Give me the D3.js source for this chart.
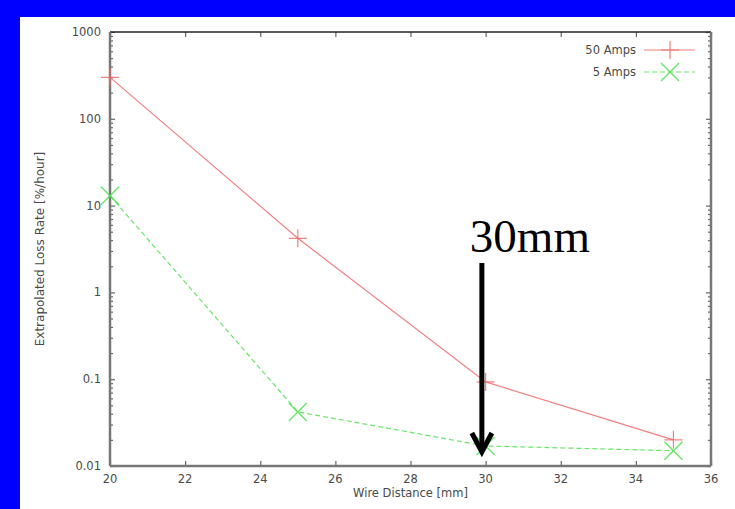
<!DOCTYPE html>
<html>
<head>
<meta charset="UTF-8">
<script src="https://d3js.org/d3.v7.min.js"></script>
<style>
    body { margin: 0; background: #0000ff; }
    svg { display: block; }
    text { font-family: "DejaVu Sans", sans-serif; fill: #4a4a4a; }
</style>
</head>
<body>
<svg width="735" height="509" id="canvas"></svg>
<script>
    // data
    var distances = [20, 25, 30, 35];
    var amps50 = [300, 4.2, 0.093, 0.02];
    var amps5 = [13, 0.042, 0.017, 0.015];
    var xTicks = [20, 22, 24, 26, 28, 30, 32, 34, 36];
    var yTicks = [0.01, 0.1, 1, 10, 100, 1000];
    var yTickLabels = ["0.01", "0.1", "1", "10", "100", "1000"];
    var seriesNames = ["50 Amps", "5 Amps"];

    var svg = d3.select("#canvas");

    // white panel on the blue slide
    svg.append("rect")
        .attr("x", 20).attr("y", 17)
        .attr("width", 715).attr("height", 492)
        .attr("fill", "#fff");

    var pLeft = 110, pRight = 711, pTop = 32, pBottom = 466;

    var x = d3.scaleLinear().domain([20, 36]).range([pLeft, pRight]);
    var y = d3.scaleLog().domain([0.01, 1000]).range([pBottom, pTop]);

    var g = svg.append("g");

    // ticks inward on all sides (gnuplot style)
    g.append("g").attr("transform", "translate(0," + pBottom + ")")
        .call(d3.axisTop(x).tickValues(xTicks).tickSize(5).tickFormat(""));
    g.append("g").attr("transform", "translate(0," + pTop + ")")
        .call(d3.axisBottom(x).tickValues(xTicks).tickSize(5).tickFormat(""));

    var minor = [];
    for (var d = 0.01; d < 999; d *= 10) {
        for (var k = 2; k <= 9; k++) minor.push(d * k);
    }
    g.append("g").attr("transform", "translate(" + pLeft + ",0)")
        .call(d3.axisRight(y).tickValues(yTicks).tickSize(5).tickFormat(""));
    g.append("g").attr("transform", "translate(" + pRight + ",0)")
        .call(d3.axisLeft(y).tickValues(yTicks).tickSize(5).tickFormat(""));
    g.append("g").attr("transform", "translate(" + pLeft + ",0)")
        .call(d3.axisRight(y).tickValues(minor).tickSize(3).tickFormat(""));
    g.append("g").attr("transform", "translate(" + pRight + ",0)")
        .call(d3.axisLeft(y).tickValues(minor).tickSize(3).tickFormat(""));

    g.selectAll(".domain").remove();
    g.selectAll(".tick line").attr("stroke", "#666").attr("stroke-width", 1.2);

    // frame
    g.append("line").attr("x1", pLeft).attr("x2", pRight).attr("y1", pTop).attr("y2", pTop)
        .attr("stroke", "#222").attr("stroke-width", 1.5);
    g.append("line").attr("x1", pLeft).attr("x2", pRight).attr("y1", pBottom).attr("y2", pBottom)
        .attr("stroke", "#777").attr("stroke-width", 2.5);
    g.append("line").attr("x1", pLeft).attr("x2", pLeft).attr("y1", pTop).attr("y2", pBottom)
        .attr("stroke", "#777").attr("stroke-width", 2.5);
    g.append("line").attr("x1", pRight).attr("x2", pRight).attr("y1", pTop).attr("y2", pBottom)
        .attr("stroke", "#777").attr("stroke-width", 2.5);

    // tick labels
    g.selectAll(".xlab").data(xTicks).enter().append("text")
        .attr("x", function (d) { return x(d); })
        .attr("y", pBottom + 17)
        .attr("text-anchor", "middle")
        .attr("font-size", "11.5px")
        .text(function (d) { return d; });

    g.selectAll(".ylab").data(yTicks).enter().append("text")
        .attr("x", pLeft - 9)
        .attr("y", function (d) { return y(d); })
        .attr("dy", "0.35em")
        .attr("text-anchor", "end")
        .attr("font-size", "11.5px")
        .text(function (d, i) { return yTickLabels[i]; });

    // axis titles
    svg.append("text")
        .attr("x", (pLeft + pRight) / 2)
        .attr("y", 497)
        .attr("text-anchor", "middle")
        .attr("font-size", "11.5px")
        .text("Wire Distance [mm]");

    svg.append("text")
        .attr("transform", "translate(44," + ((pTop + pBottom) / 2) + ") rotate(-90)")
        .attr("text-anchor", "middle")
        .attr("font-size", "12px")
        .text("Extrapolated Loss Rate [%/hour]");

    var red = "#f26868", green = "#4ee24e";

    var line = d3.line()
        .x(function (d, i) { return x(distances[i]); })
        .y(function (d) { return y(d); });

    g.append("path").datum(amps50)
        .attr("d", line)
        .attr("fill", "none")
        .attr("stroke", red)
        .attr("stroke-width", 1.2)
        .attr("stroke-opacity", 0.85);

    g.append("path").datum(amps5)
        .attr("d", line)
        .attr("fill", "none")
        .attr("stroke", green)
        .attr("stroke-width", 1.2)
        .attr("stroke-dasharray", "5,3")
        .attr("stroke-opacity", 0.85);

    var s = 9;
    function plus(sel, cx, cy) {
        sel.append("path")
            .attr("d", "M" + (cx - s) + "," + cy + "H" + (cx + s) + "M" + cx + "," + (cy - s) + "V" + (cy + s))
            .attr("stroke", red).attr("stroke-width", 1.2).attr("stroke-opacity", 0.85).attr("fill", "none");
    }
    function cross(sel, cx, cy) {
        sel.append("path")
            .attr("d", "M" + (cx - s) + "," + (cy - s) + "L" + (cx + s) + "," + (cy + s) +
                "M" + (cx - s) + "," + (cy + s) + "L" + (cx + s) + "," + (cy - s))
            .attr("stroke", green).attr("stroke-width", 1.4).attr("stroke-opacity", 0.85).attr("fill", "none");
    }

    amps50.forEach(function (v, i) { plus(g, x(distances[i]), y(v)); });
    amps5.forEach(function (v, i) { cross(g, x(distances[i]), y(v)); });

    // legend
    var legY = [50, 72];
    seriesNames.forEach(function (name, i) {
        svg.append("text")
            .attr("x", 636).attr("y", legY[i])
            .attr("dy", "0.35em")
            .attr("text-anchor", "end")
            .attr("font-size", "11.5px")
            .text(name);
        var ln = svg.append("line")
            .attr("x1", 644).attr("x2", 695)
            .attr("y1", legY[i]).attr("y2", legY[i])
            .attr("stroke", i == 0 ? red : green)
            .attr("stroke-width", 1.2)
            .attr("stroke-opacity", 0.85);
        if (i == 1) ln.attr("stroke-dasharray", "5,3");
        if (i == 0) plus(svg, 670, legY[i]); else cross(svg, 670, legY[i]);
    });

    // annotation: arrow pointing at 30mm
    var ax = x(29.9);
    var ann = svg.append("g");
    ann.append("text")
        .attr("x", ax - 12)
        .attr("y", 252)
        .style("font-family", "'Liberation Serif', 'Times New Roman', serif")
        .style("font-size", "47px")
        .style("fill", "#000")
        .text("30mm");
    ann.append("line")
        .attr("x1", ax).attr("x2", ax)
        .attr("y1", 263).attr("y2", 450)
        .attr("stroke", "#000").attr("stroke-width", 5);
    ann.append("path")
        .attr("d", "M" + (ax - 10) + ",433L" + ax + ",452L" + (ax + 10) + ",433")
        .attr("fill", "none")
        .attr("stroke", "#000")
        .attr("stroke-width", 5)
        .attr("stroke-linejoin", "miter");
</script>
</body>
</html>
